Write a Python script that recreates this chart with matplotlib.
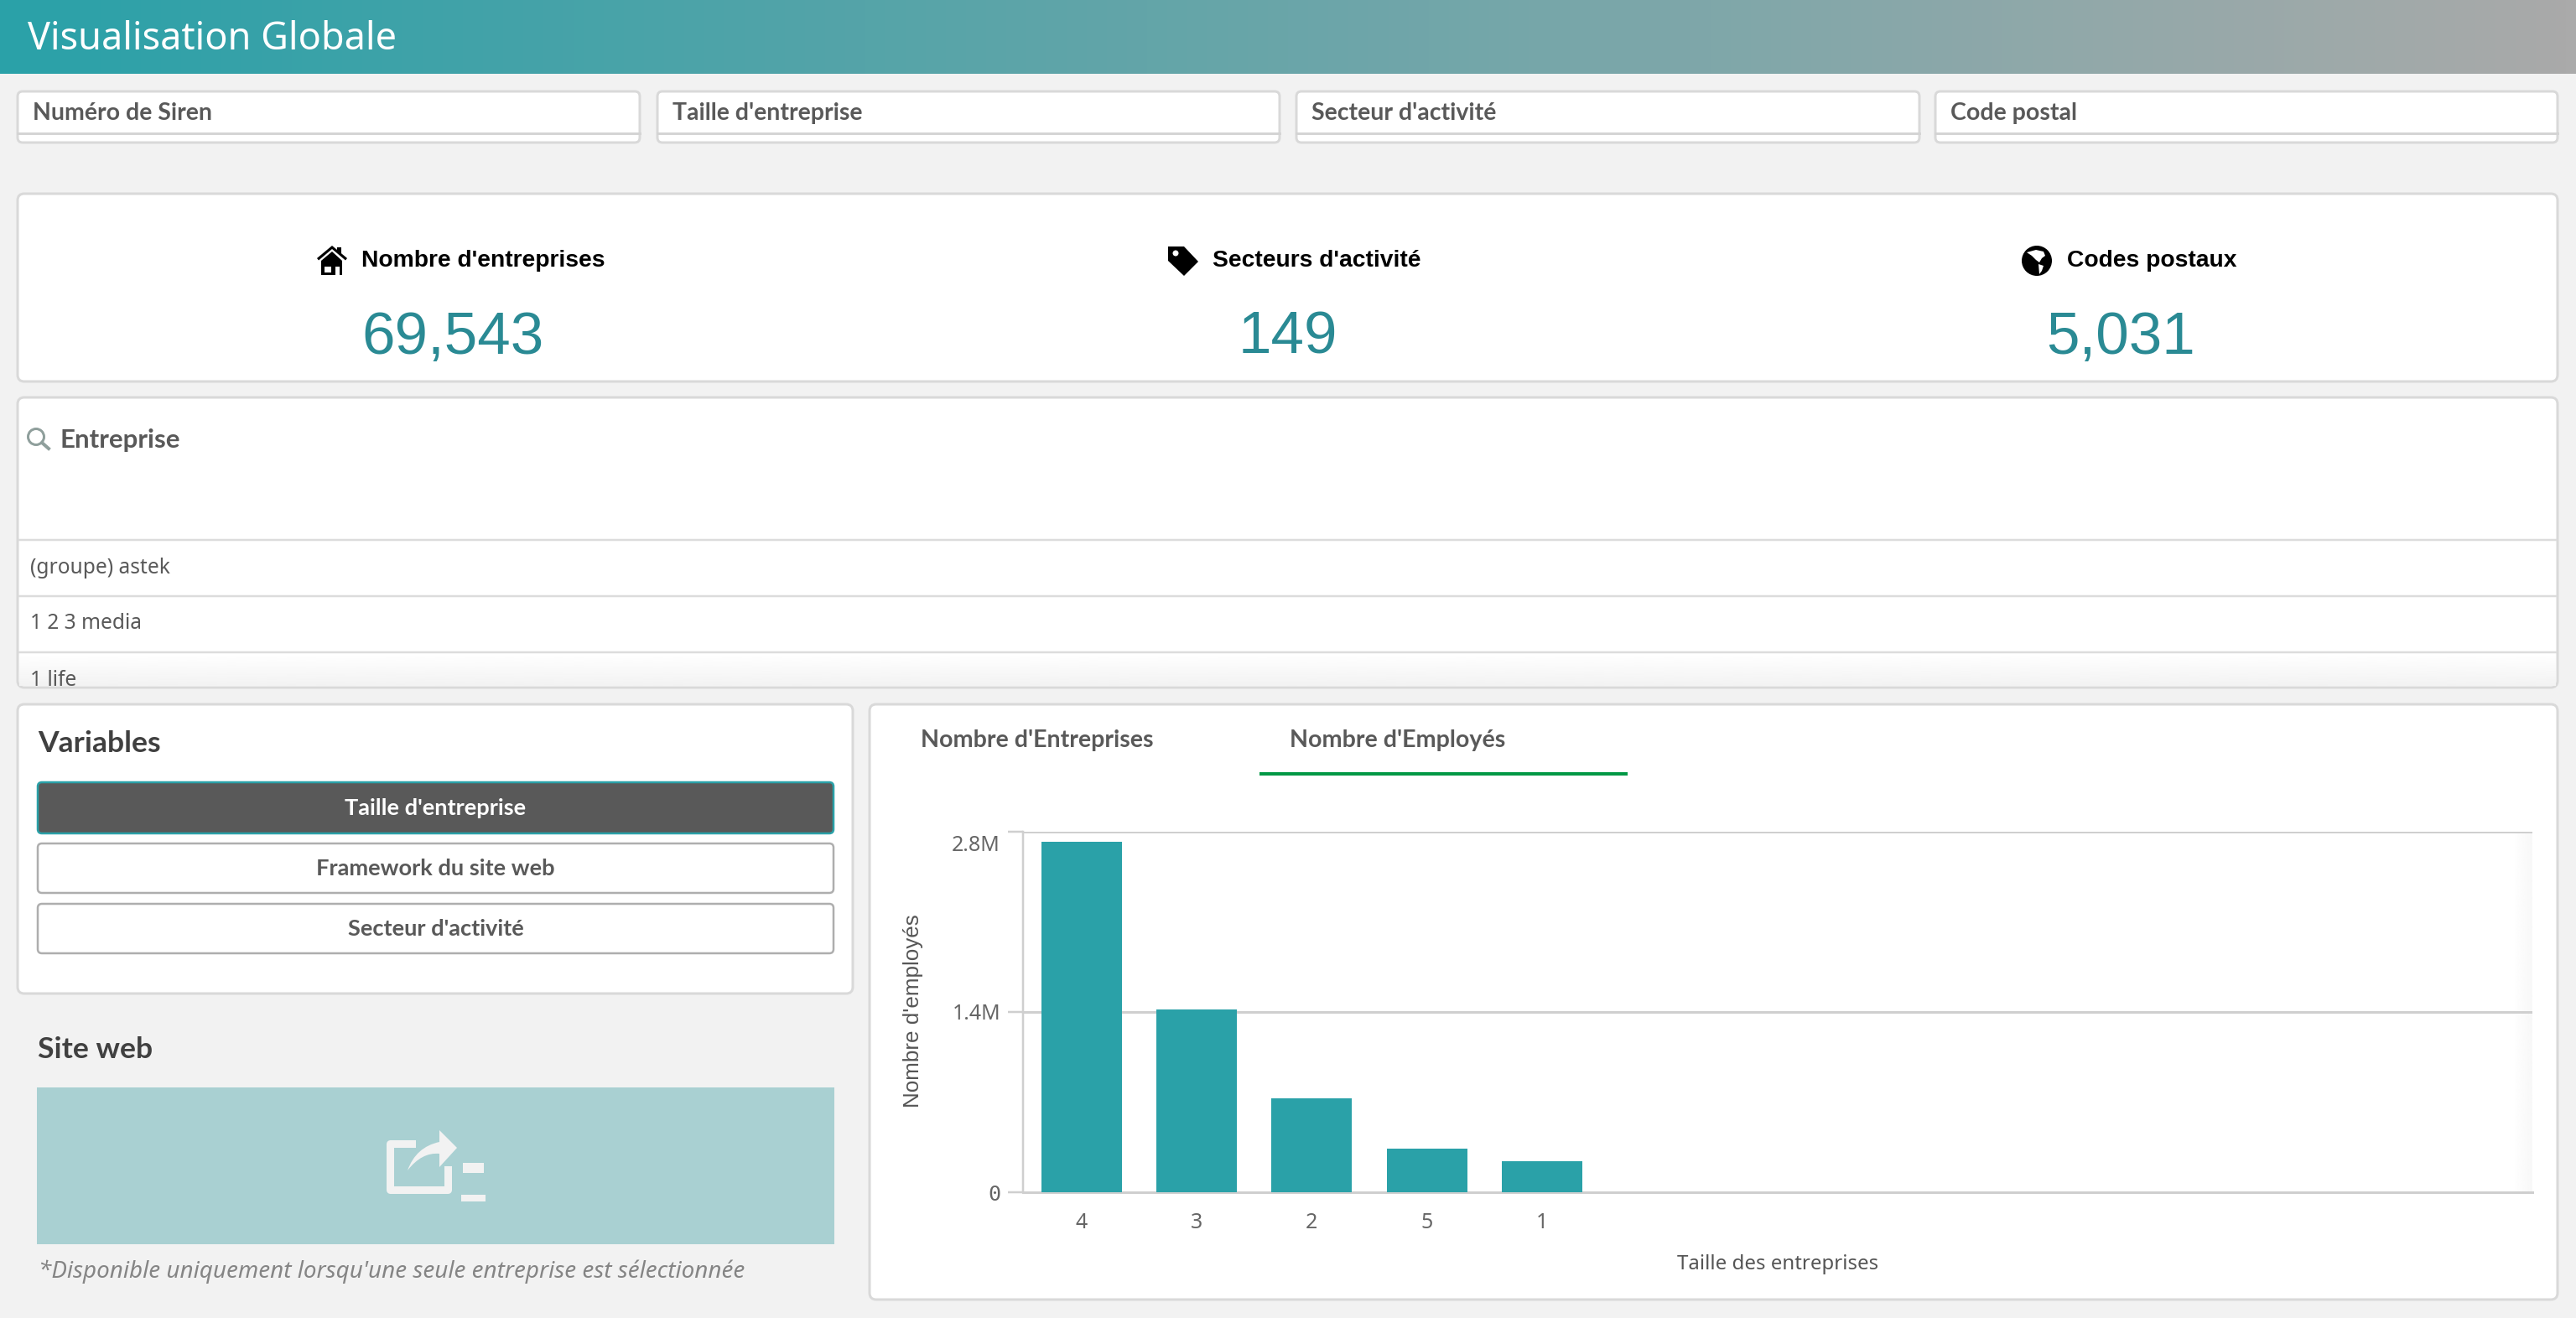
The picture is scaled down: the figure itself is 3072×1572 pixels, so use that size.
import numpy as np
import matplotlib
matplotlib.use("Agg")
import matplotlib.pyplot as plt
from matplotlib.patches import FancyBboxPatch, Rectangle, Polygon, Circle, PathPatch
from matplotlib.path import Path
from matplotlib.transforms import ScaledTranslation

# chart values
categories = ["4", "3", "2", "5", "1"]
employees = [2720000, 1420000, 730000, 340000, 240000]
y_ticks = [0, 1400000, 2800000]
y_tick_labels = ["0", "1.4M", "2.8M"]

# page texts
filters = ["Numéro de Siren", "Taille d'entreprise", "Secteur d'activité", "Code postal"]
kpi_titles = ["Nombre d'entreprises", "Secteurs d'activité", "Codes postaux"]
kpi_values = ["69,543", "149", "5,031"]
companies = ["(groupe) astek", "1 2 3 media", "1 life"]
variables = ["Taille d'entreprise", "Framework du site web", "Secteur d'activité"]

W, H = 3072, 1572
TEAL = "#2aa1a8"
BG = "#f2f2f2"
EDGE = "#d9d9d9"
GREY = "#595959"
SANS = ["Noto Sans", "DejaVu Sans"]
BOLD = ["Lato", "DejaVu Sans"]


def pt(px):
    return px * 0.72


fig = plt.figure(figsize=(W / 100, H / 100), dpi=100, facecolor=BG)
page = fig.add_axes([0, 0, 1, 1])
page.axis("off")


def panel(x0, y0, x1, y1, fc="white", ec=EDGE, lw=3, r=8, zorder=1):
    p = FancyBboxPatch((x0, y0), x1 - x0, y1 - y0, boxstyle=f"round,pad=0,rounding_size={r}",
                       fc=fc, ec=ec, lw=pt(lw), zorder=zorder)
    page.add_patch(p)
    return p


def label(x, y, s, size, color=GREY, weight="normal", ha="left", family=SANS, **kw):
    return page.text(x, y + 3, s, fontsize=pt(size), color=color, fontweight=weight, ha=ha, va="center",
                     family=family, zorder=5, **kw)


# header
grad = np.linspace(0, 1, 256)[None, :, None]
left_col = np.array(matplotlib.colors.to_rgb(TEAL))
right_col = np.array(matplotlib.colors.to_rgb("#aaaaaa"))
page.imshow(left_col + (right_col - left_col) * grad, extent=(0, W, 88, 0), aspect="auto", zorder=1)
label(33, 44, "Visualisation Globale", 45, color="white")

# filter boxes
for x0, x1, s in zip([21, 784, 1546, 2308], [763, 1526, 2289, 3050], filters):
    panel(x0, 109, x1, 170, r=6)
    page.plot([x0, x1], [159, 159], color="#d4d4d4", lw=pt(3), zorder=2)
    label(x0 + 18, 132, s, 28.5, weight="bold", family=BOLD)

# kpi band
panel(21, 231, 3050, 455)
kpi_x = [431, 1446, 2465]
kpi_center = [540, 1536, 2529]
for x, cx, t, v in zip(kpi_x, kpi_center, kpi_titles, kpi_values):
    label(x, 308, t, 28.3, color="black", weight="bold", family=["Liberation Sans"])
    label(cx, 401, v, 71, color="#2a8a94", ha="center", family=["Liberation Sans"])

# house icon
page.add_patch(Polygon([(378, 308), (396, 293), (414, 308), (412, 310.5), (396, 297), (380, 310.5)],
                       fc="black", zorder=5))
page.add_patch(Polygon([(396, 300), (408, 311), (408, 328), (383, 328), (383, 311)], fc="black", zorder=5))
page.add_patch(Rectangle((402, 295), 5, 7, fc="black", zorder=5))
page.add_patch(Rectangle((387, 318), 7.5, 7, fc="white", zorder=6))
page.add_patch(Rectangle((400, 318), 4.5, 10, fc="white", zorder=6))

# tag icon
page.add_patch(Polygon([(1393, 294), (1412, 294), (1429, 312), (1412, 329), (1393, 311)], fc="black", zorder=5))
page.add_patch(Circle((1402, 302), 3.5, fc="white", zorder=6))

# globe icon
page.add_patch(Circle((2429, 311), 18, fc="black", zorder=5))
page.add_patch(Polygon([(2417, 301), (2428, 298), (2437, 300), (2439, 305), (2435, 308), (2432, 313), (2428, 310),
                        (2423, 305)], fc="white", zorder=6))
page.add_patch(Polygon([(2431, 315), (2437, 317), (2435, 323), (2432, 327)], fc="white", zorder=6))

# company list
p = panel(21, 474, 3050, 820)
list_grad = np.linspace(1, 0.95, 64)[:, None]
page.imshow(list_grad, cmap="gray", vmin=0, vmax=1, extent=(23, 3048, 818, 780), aspect="auto", zorder=2)
page.add_patch(Circle((43, 521), 9.5, fc="none", ec="#8f9f9c", lw=pt(3), zorder=5))
page.plot([50, 58], [528, 535], color="#8f9f9c", lw=pt(4), zorder=5)
label(71, 522, "Entreprise", 31.3, weight="bold", family=BOLD)
for y in [644, 711, 778]:
    page.plot([23, 3048], [y, y], color="#dcdcdc", lw=pt(2.5), zorder=3)
for y, s in zip([675, 741, 808], companies):
    t = label(36, y, s, 24.5)
    t.set_clip_path(Rectangle((23, 476), 3025, 342, transform=page.transData))

# variables
panel(21, 840, 1017, 1185)
label(45, 884, "Variables", 35.5, color="#404040", weight="bold", family=BOLD)
btn_top = [933, 1006, 1078]
btn_bot = [994, 1065, 1137]
for i, (y0, y1, s) in enumerate(zip(btn_top, btn_bot, variables)):
    on = i == 0
    panel(45, y0, 994, y1, fc=GREY if on else "white", ec=TEAL if on else "#aeaeae", lw=2.5, r=5, zorder=2)
    label(519.5, (y0 + y1) / 2 - 3, s, 27.3, color="white" if on else GREY, weight="bold", ha="center", family=BOLD)

# site web
label(45, 1249, "Site web", 35.5, color="#404040", weight="bold", family=BOLD)
page.add_patch(Rectangle((44, 1297), 951, 187, fc="#a9d0d2", ec="none", zorder=1))
ICON = "#f2f2f2"
page.plot([491, 465, 465, 534, 534], [1364, 1364, 1419, 1419, 1395], color=ICON, lw=pt(9), zorder=3,
          solid_joinstyle="round")
arrow = Path([(486, 1396), (496, 1368), (524, 1362), (524, 1348), (545, 1369), (524, 1392), (524, 1376),
              (503, 1374), (486, 1396)],
             [Path.MOVETO, Path.CURVE3, Path.CURVE3, Path.LINETO, Path.LINETO, Path.LINETO, Path.LINETO,
              Path.CURVE3, Path.CURVE3])
page.add_patch(PathPatch(arrow, fc=ICON, ec="none", zorder=4))
page.add_patch(Rectangle((552, 1387), 25, 12, fc=ICON, zorder=3))
page.add_patch(Rectangle((550, 1425), 29, 8, fc=ICON, zorder=3))
label(46, 1514, "*Disponible uniquement lorsqu'une seule entreprise est sélectionnée", 27.8, color="#858585",
      style="italic")

# chart panel
panel(1037, 840, 3050, 1550)
label(1098, 880, "Nombre d'Entreprises", 28.6, weight="bold", family=BOLD)
label(1538, 880, "Nombre d'Employés", 28.6, weight="bold", family=BOLD)
page.add_patch(Rectangle((1502, 921), 439, 4, fc="#009845", ec="none", zorder=3))
label(2120, 1505, "Taille des entreprises", 24, ha="center", color="#555555")
label(1089, 1203, "Nombre d'employés", 26, ha="center", color="#555555", rotation=90, rotation_mode="anchor",
      family=["Liberation Sans"])

# soft fade on the right end of the plot
fade = np.linspace(1, 0.97, 32)[None, :]
page.imshow(fade, cmap="gray", vmin=0, vmax=1, extent=(2996, 3020, 1422, 994), aspect="auto", zorder=2)

page.set_xlim(0, W)
page.set_ylim(H, 0)

# bars go on a real axes placed over the panel
ax = fig.add_axes([1220 / W, 1 - 1422 / H, 1800 / W, 430 / H], facecolor="none", zorder=3)
xs = np.arange(len(categories))
ax.bar(xs, employees, width=0.70, color=TEAL, zorder=3)
ax.set_xlim(-0.507, 12.6)
ax.set_ylim(0, y_ticks[-1])
ax.set_xticks(xs, categories)
ax.set_yticks(y_ticks, y_tick_labels)
ax.grid(axis="y", color="#cfcfcf", lw=pt(3), zorder=1)
ax.tick_params(axis="x", length=0, pad=pt(24), labelsize=pt(25), labelcolor="#666666")
ax.tick_params(axis="y", length=pt(18), width=pt(2.5), color="#cfcfcf", pad=pt(9), labelsize=pt(25),
               labelcolor="#666666")
for t in ax.get_xticklabels() + ax.get_yticklabels():
    t.set_family(SANS)
ax.get_yticklabels()[0].set_family("DejaVu Sans Mono")
top_label = ax.get_yticklabels()[2]
top_label.set_verticalalignment("top")
top_label.set_transform(top_label.get_transform() + ScaledTranslation(0, -0.04, fig.dpi_scale_trans))
for s in ["top", "right"]:
    ax.spines[s].set_visible(False)
ax.spines["left"].set_color("#cfcfcf")
ax.spines["left"].set_linewidth(pt(2.5))
ax.spines["bottom"].set_color("#cfcfcf")
ax.spines["bottom"].set_linewidth(pt(3))

fig.savefig("out.png", dpi=100, facecolor=BG)
